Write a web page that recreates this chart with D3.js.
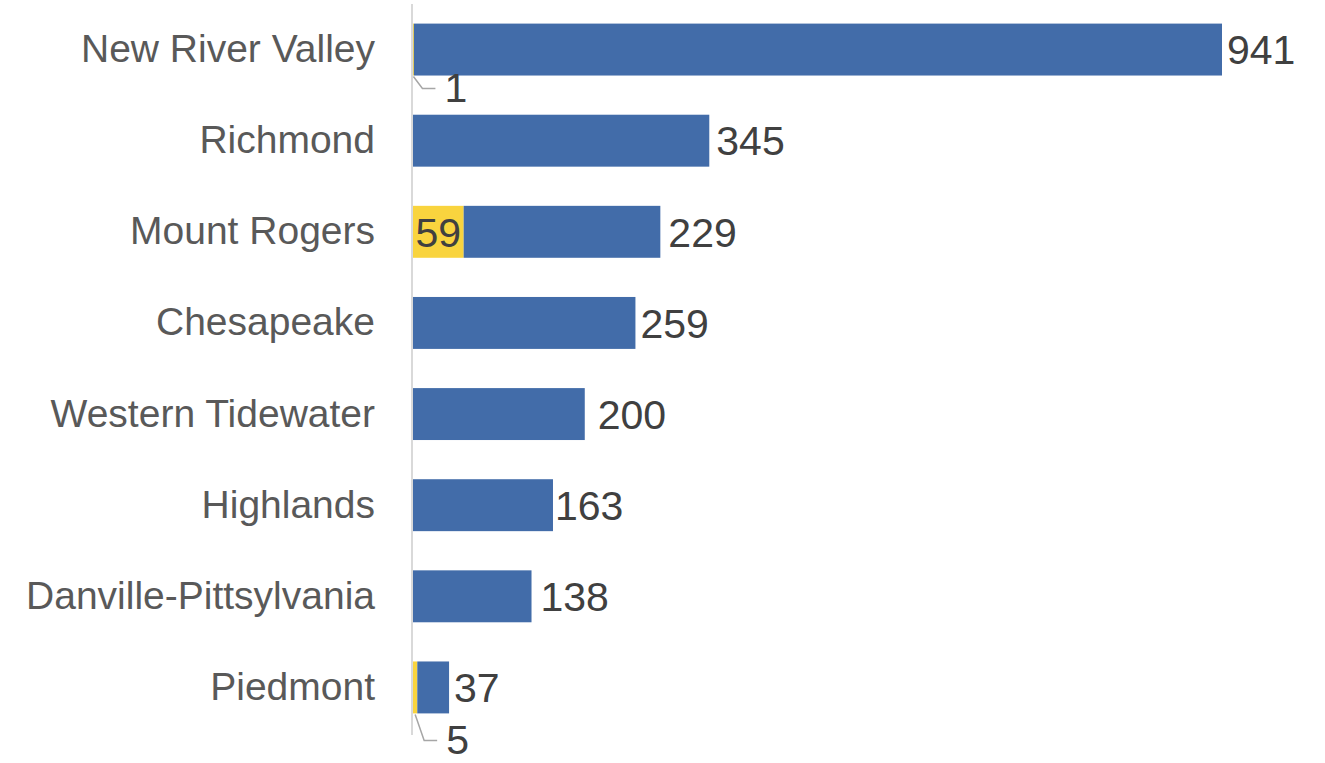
<!DOCTYPE html>
<html>
<head>
<meta charset="utf-8">
<script src="https://cdn.jsdelivr.net/npm/d3@7"></script>
<style>
  body { margin: 0; background: #fff; }
  text { font-family: "Liberation Sans", Arial, sans-serif; }
</style>
</head>
<body>
<div id="chart"></div>
<script>
// data
const regions = ["New River Valley", "Richmond", "Mount Rogers", "Chesapeake",
  "Western Tidewater", "Highlands", "Danville-Pittsylvania", "Piedmont"];
const yellowValues = [1, 0, 59, 0, 0, 0, 0, 5];
const blueValues = [941, 345, 229, 259, 200, 163, 138, 37];

const width = 1325, height = 763;
const colors = { yellow: "#F9D43E", blue: "#426CA9" };

// small nudges for labels that were moved by hand in the original
const blueNudge = [0, 2, 3, 0, 8, -3, 4, 0];
const leaderDrop = { 0: 13, 7: 27 };

const svg = d3.select("#chart").append("svg")
  .attr("width", width).attr("height", height);

const rows = regions.map((r, i) => ({
  region: r, yellow: yellowValues[i], blue: blueValues[i], i
}));

const x = d3.scaleLinear()
  .domain([0, d3.max(rows, d => d.yellow + d.blue)])
  .range([413, 1222]);

const y = d3.scaleBand()
  .domain(regions)
  .range([4, 733])
  .paddingInner(0.43)
  .paddingOuter(0.215);

// category axis
const yAxis = svg.append("g")
  .attr("transform", `translate(${x(0) - 1},0)`)
  .call(d3.axisLeft(y).tickSize(0).tickPadding(37));
yAxis.select(".domain").remove();
yAxis.selectAll("text")
  .style("font-size", "39px")
  .style("font-family", '"Liberation Sans", Arial, sans-serif')
  .attr("fill", "#595959");

svg.append("line")
  .attr("x1", x(0) - 1).attr("x2", x(0) - 1)
  .attr("y1", 4).attr("y2", 735)
  .attr("stroke", "#d9d9d9").attr("stroke-width", 2);

// yellow segments
svg.selectAll(".seg-y")
  .data(rows.filter(d => d.yellow > 0))
  .enter().append("rect")
  .attr("class", "seg-y")
  .attr("x", x(0))
  .attr("y", d => y(d.region))
  .attr("width", d => x(d.yellow) - x(0))
  .attr("height", y.bandwidth())
  .attr("fill", colors.yellow);

// blue segments
svg.selectAll(".seg-b")
  .data(rows)
  .enter().append("rect")
  .attr("class", "seg-b")
  .attr("x", d => x(d.yellow))
  .attr("y", d => y(d.region))
  .attr("width", d => x(d.yellow + d.blue) - x(d.yellow))
  .attr("height", y.bandwidth())
  .attr("fill", colors.blue);

// blue value labels
svg.selectAll(".lab-b")
  .data(rows)
  .enter().append("text")
  .attr("x", d => x(d.yellow + d.blue) + 5 + blueNudge[d.i])
  .attr("y", d => y(d.region) + y.bandwidth() / 2)
  .attr("dy", "0.36em")
  .attr("fill", "#404040")
  .style("font-size", "41px")
  .text(d => d.blue);

// yellow labels: inside when wide enough, else with a leader line
rows.filter(d => d.yellow > 0).forEach(d => {
  const w = x(d.yellow) - x(0);
  const cy = y(d.region) + y.bandwidth() / 2;
  if (w > 40) {
    svg.append("text")
      .attr("x", x(d.yellow / 2))
      .attr("y", cy)
      .attr("dy", "0.36em")
      .attr("text-anchor", "middle")
      .attr("fill", "#404040")
      .style("font-size", "41px")
      .text(d.yellow);
  } else {
    const bottom = y(d.region) + y.bandwidth();
    const drop = leaderDrop[d.i];
    const x0 = x(d.yellow / 2);
    svg.append("path")
      .attr("d", `M${x0},${bottom + 1}L${x0 + 9},${bottom + drop}L${x0 + 22},${bottom + drop}`)
      .attr("fill", "none")
      .attr("stroke", "#a6a6a6")
      .attr("stroke-width", 1.5);
    svg.append("text")
      .attr("x", x0 + 31)
      .attr("y", bottom + drop)
      .attr("dy", "0.34em")
      .attr("fill", "#404040")
      .style("font-size", "41px")
      .text(d.yellow);
  }
});
</script>
</body>
</html>
